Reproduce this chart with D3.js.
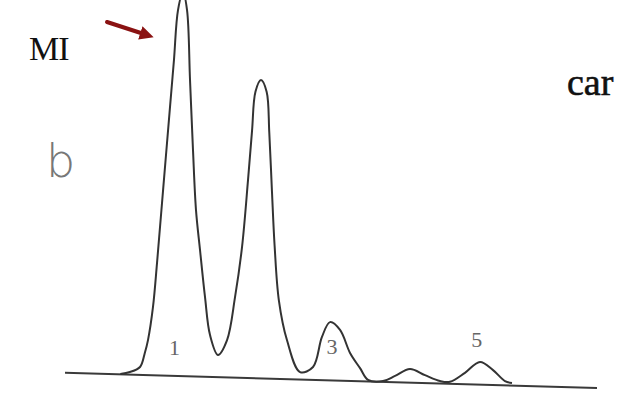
<!DOCTYPE html>
<html>
<head>
<meta charset="utf-8">
<script src="https://cdn.jsdelivr.net/npm/d3@7"></script>
<style>
  html, body { margin: 0; padding: 0; background: #fff; }
  svg { display: block; }
</style>
</head>
<body>
<svg id="chart" width="618" height="398"></svg>
<script>
// ---- data (time in arbitrary units, signal in % of scale) ----
const traceTime = [5.2, 6.1, 7.05, 7.5, 7.8, 8.27, 8.65, 9.21, 9.87, 10.24, 10.62, 11.09, 11.47, 11.75, 12.03, 12.31, 12.69, 13.16, 13.63, 14.38, 15.23, 15.98, 16.64, 17.2, 17.58, 17.9, 18.42, 18.95, 19.2, 19.45, 19.7, 20.1, 20.86, 22.09, 23.31, 24.15, 24.91, 25.85, 26.79, 27.73, 28.48, 29.89, 31.02, 32.42, 33.83, 35.24, 36.18, 37.59, 39.0, 40.23, 41.35, 42.01];
const traceSignal = [4.1, 4.6, 5.9, 9.5, 12.8, 21.3, 32.6, 51.0, 72.6, 84.6, 97.4, 102.1, 97.4, 79.5, 61.5, 46.2, 35.9, 23.8, 14.1, 9.0, 12.8, 23.8, 36.7, 53.8, 66.5, 76.5, 79.5, 76.5, 66.0, 51.0, 37.0, 23.0, 12.8, 4.6, 5.9, 13.6, 17.4, 15.4, 9.5, 5.6, 2.6, 2.3, 3.6, 5.4, 3.8, 2.3, 2.1, 4.4, 7.2, 5.1, 2.3, 1.8];
const baselineTime = [0, 50];
const baselineSignal = [4.4, 0.5];
const peakLabels = ["1", "3", "5"];
const peakLabelTime = [10.3, 25.1, 38.7];
const peakLabelSignal = [9.0, 9.2, 10.9];

// ---- scales ----
const svg = d3.select("#chart");
const x = d3.scaleLinear().domain([0, 50]).range([65, 597]);
const y = d3.scaleLinear().domain([0, 100]).range([390, 0]);

const trace = traceTime.map((t, i) => ({ t, v: traceSignal[i] }));
const base = baselineTime.map((t, i) => ({ t, v: baselineSignal[i] }));

// baseline
svg.append("path")
  .datum(base)
  .attr("fill", "none")
  .attr("stroke", "#3a3a3a")
  .attr("stroke-width", 2)
  .attr("d", d3.line().x(d => x(d.t)).y(d => y(d.v)));

// trace
svg.append("path")
  .datum(trace)
  .attr("fill", "none")
  .attr("stroke", "#333")
  .attr("stroke-width", 2)
  .attr("stroke-linejoin", "round")
  .attr("d", d3.line().x(d => x(d.t)).y(d => y(d.v)).curve(d3.curveCatmullRom.alpha(0.5)));

// peak labels
svg.selectAll("text.peak")
  .data(peakLabels)
  .join("text")
  .attr("class", "peak")
  .attr("x", (d, i) => x(peakLabelTime[i]))
  .attr("y", (d, i) => y(peakLabelSignal[i]))
  .attr("text-anchor", "middle")
  .attr("font-family", "Liberation Serif, serif")
  .attr("font-size", 22)
  .attr("fill", "#666")
  .text(d => d);

// annotation texts
svg.append("text")
  .attr("x", 29).attr("y", 60)
  .attr("font-family", "Liberation Serif, serif")
  .attr("font-size", 34)
  .attr("letter-spacing", -1)
  .attr("fill", "#111")
  .text("MI");

svg.append("text")
  .attr("x", 567).attr("y", 95)
  .attr("font-family", "Liberation Serif, serif")
  .attr("font-size", 38)
  .attr("stroke", "#111")
  .attr("stroke-width", 0.6)
  .attr("fill", "#111")
  .text("car");

svg.append("text")
  .attr("x", 46).attr("y", 177)
  .attr("font-family", "DejaVu Sans, sans-serif")
  .attr("font-size", 46)
  .attr("font-weight", 200)
  .attr("fill", "#777")
  .text("b");

// red arrow pointing at the first peak
const defs = svg.append("defs");
defs.append("marker")
  .attr("id", "head")
  .attr("viewBox", "0 0 10 10")
  .attr("refX", 5).attr("refY", 5)
  .attr("markerWidth", 3.5).attr("markerHeight", 3.5)
  .attr("orient", "auto")
  .append("path")
  .attr("d", "M0,0 L10,5 L0,10 Z")
  .attr("fill", "#8a1212");

svg.append("line")
  .attr("x1", 107).attr("y1", 22)
  .attr("x2", 147).attr("y2", 35)
  .attr("stroke", "#8a1212")
  .attr("stroke-width", 4)
  .attr("stroke-linecap", "round")
  .attr("marker-end", "url(#head)");
</script>
</body>
</html>
